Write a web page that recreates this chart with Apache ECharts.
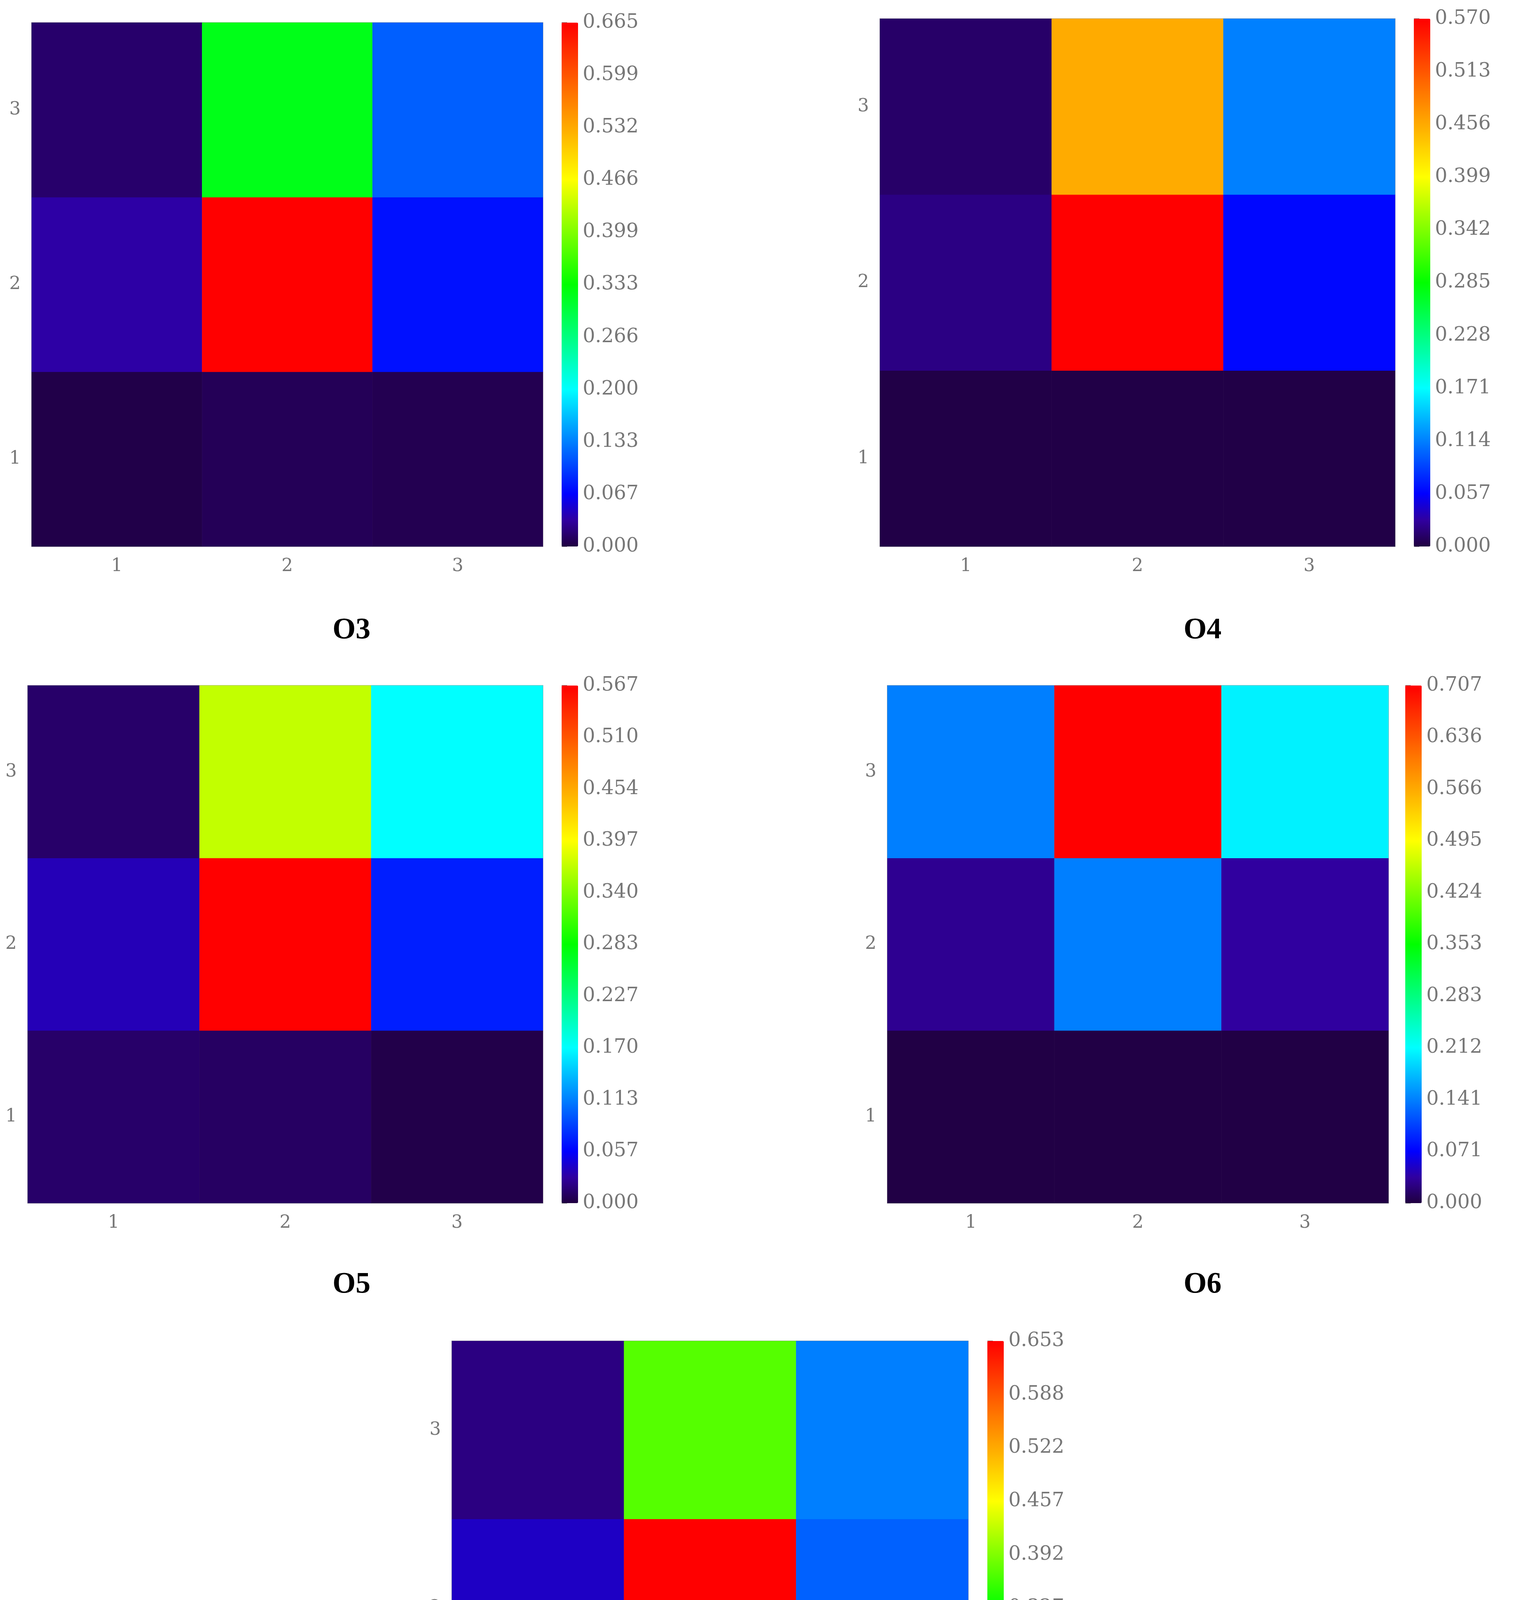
<!DOCTYPE html>
<html>
<head>
<meta charset="utf-8">
<script src="https://cdn.jsdelivr.net/npm/echarts@6/dist/echarts.min.js"></script>
<style>html,body{margin:0;padding:0;background:#fff}#main{width:3879px;height:5073px}</style>
</head>
<body>
<div id="main"></div>
<script>
// grid categories
let cats = ['1', '2', '3'];
let names = ['O3', 'O4', 'O5', 'O6', 'O7'];
// values per panel: rows y=1, y=2, y=3 ; columns x=1..3
let vO3 = [[0.003, 0.008, 0.006], [0.035, 0.665, 0.075], [0.015, 0.32, 0.116]];
let vO4 = [[0.002, 0.002, 0.002], [0.02, 0.57, 0.06], [0.012, 0.455, 0.114]];
let vO5 = [[0.012, 0.01, 0.003], [0.035, 0.567, 0.07], [0.012, 0.37, 0.17]];
let vO6 = [[0.002, 0.002, 0.002], [0.03, 0.141, 0.035], [0.141, 0.707, 0.205]];
let vO7 = [[0.014, 0.014, 0.003], [0.045, 0.653, 0.115], [0.022, 0.37, 0.13]];
let vmax = [0.665, 0.570, 0.567, 0.707, 0.653];
let panelVals = [vO3, vO4, vO5, vO6, vO7];

// layout (px)
let boxes = [
    {l: 81, t: 58, w: 1309, h: 1341, cb: 1438, ty: 1616, tx: 895},
    {l: 2253, t: 48, w: 1319, h: 1351, cb: 3620, ty: 1616, tx: 3074},
    {l: 71, t: 1755, w: 1319, h: 1325, cb: 1438, ty: 3291, tx: 895},
    {l: 2272, t: 1755, w: 1283, h: 1325, cb: 3598, ty: 3291, tx: 3074},
    {l: 1157, t: 3433, w: 1322, h: 1367, cb: 2528, ty: 5010, tx: 1985}
];

// colormap stops
let stops = [[0, [32, 0, 64]], [0.05, [48, 0, 160]], [0.1, [0, 0, 255]], [0.3, [0, 255, 255]],
    [0.5, [0, 255, 0]], [0.7, [255, 255, 0]], [0.85, [255, 128, 0]], [1, [255, 0, 0]]];
function cmap(f) {
    for (let i = 1; i < stops.length; i++) {
        if (f <= stops[i][0]) {
            let a = stops[i - 1], b = stops[i];
            let k = (f - a[0]) / (b[0] - a[0]);
            let c = a[1].map((v, j) => Math.round(v + (b[1][j] - v) * k));
            return 'rgb(' + c.join(',') + ')';
        }
    }
    return 'rgb(255,0,0)';
}
let ramp = [];
for (let i = 0; i <= 40; i++) ramp.push(cmap(i / 40));

let font = 'DejaVu Serif';
let gray = '#777';
let grids = [], xAxes = [], yAxes = [], series = [], visualMaps = [], titles = [];

boxes.forEach((b, p) => {
    let gi = grids.length;
    grids.push({left: b.l, top: b.t, width: b.w, height: b.h, show: true, borderColor: '#999', borderWidth: 2});
    grids.push({left: b.cb, top: b.t, width: 42, height: b.h});
    let xi = xAxes.length, yi = yAxes.length;
    let ax = {
        type: 'category', data: cats, gridIndex: gi,
        axisLine: {lineStyle: {color: '#999', width: 2}},
        axisTick: {alignWithLabel: true, length: 18, lineStyle: {color: gray, width: 2}},
        axisLabel: {fontFamily: font, fontSize: 46, color: gray, margin: 28},
        splitArea: {show: false}
    };
    xAxes.push(Object.assign({}, ax, {position: 'bottom'}));
    xAxes.push(Object.assign({}, ax, {position: 'top', axisLabel: {show: false}}));
    yAxes.push(Object.assign({}, ax, {position: 'left'}));
    yAxes.push(Object.assign({}, ax, {position: 'right', axisLabel: {show: false}}));
    // colorbar axes
    xAxes.push({type: 'value', gridIndex: gi + 1, show: false, min: 0, max: 1});
    yAxes.push({
        type: 'value', gridIndex: gi + 1, position: 'right', min: 0, max: vmax[p], interval: vmax[p] / 10,
        axisLine: {show: false}, splitLine: {show: false},
        axisTick: {show: true, length: 14, lineStyle: {color: gray, width: 2}},
        axisLabel: {fontFamily: font, fontSize: 50, color: gray, margin: 12,
            showMaxLabel: true, formatter: v => v.toFixed(3)}
    });
    let data = [];
    panelVals[p].forEach((row, r) => row.forEach((v, c) => data.push([c, r, v])));
    series.push({
        type: 'heatmap', name: names[p], xAxisIndex: xi, yAxisIndex: yi,
        data: data, itemStyle: {borderWidth: 0}
    });
    visualMaps.push({
        type: 'continuous', min: 0, max: vmax[p], seriesIndex: p, calculable: false,
        inRange: {color: ramp}, text: null, showLabel: false, padding: 0,
        left: b.cb, top: b.t, itemWidth: 42, itemHeight: b.h, realtime: false
    });
    titles.push({
        text: names[p], left: b.tx, top: b.ty - 45, textAlign: 'center',
        textStyle: {fontFamily: 'Liberation Serif', fontWeight: 'bold', fontSize: 76, color: '#000'}
    });
});

let chart = echarts.init(document.getElementById('main'));
chart.setOption({
    backgroundColor: '#fff',
    animation: false,
    title: titles,
    grid: grids,
    xAxis: xAxes,
    yAxis: yAxes,
    visualMap: visualMaps,
    series: series
});
</script>
</body>
</html>
